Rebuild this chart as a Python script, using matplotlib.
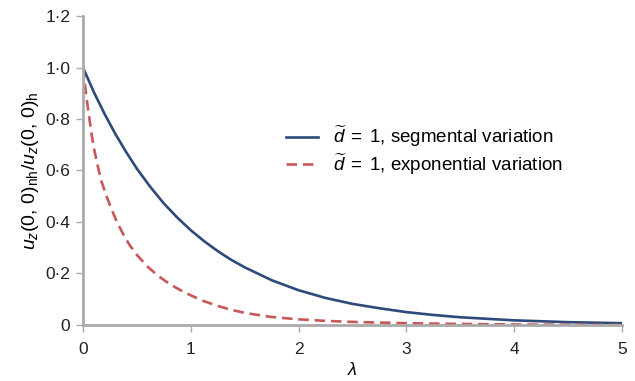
import matplotlib
matplotlib.use('Agg')
import matplotlib.pyplot as plt
from matplotlib.ticker import FixedLocator, FixedFormatter

plt.rcParams['font.family'] = ['Liberation Sans', 'DejaVu Sans']
plt.rcParams['mathtext.fontset'] = 'custom'
plt.rcParams['mathtext.rm'] = 'Liberation Sans'
plt.rcParams['mathtext.it'] = 'Liberation Sans:italic'

# values
lam_seg = [0, 0.1, 0.2, 0.3, 0.4, 0.5, 0.625, 0.75, 0.875, 1.0, 1.125, 1.25, 1.375, 1.5, 1.75,
           2.0, 2.25, 2.5, 2.75, 3.0, 3.25, 3.5, 3.75, 4.0, 4.5, 5.0]
u_seg = [1.0, 0.905, 0.82, 0.742, 0.672, 0.607, 0.536, 0.472, 0.417, 0.368, 0.325, 0.287,
         0.253, 0.224, 0.174, 0.135, 0.105, 0.082, 0.065, 0.05, 0.039, 0.03, 0.024, 0.018,
         0.011, 0.007]

lam_exp = [0, 0.02, 0.04, 0.06, 0.08, 0.1, 0.135, 0.17, 0.21, 0.25, 0.31, 0.37, 0.43, 0.5,
           0.6, 0.7, 0.8, 0.9, 1.0, 1.125, 1.25, 1.375, 1.5, 1.75, 2.0, 2.25, 2.5, 3.0, 3.5,
           4.0, 4.5, 5.0]
u_exp = [1.0, 0.925, 0.86, 0.80, 0.74, 0.69, 0.62, 0.56, 0.51, 0.465, 0.405, 0.355, 0.312,
         0.272, 0.226, 0.19, 0.16, 0.136, 0.115, 0.092, 0.074, 0.059, 0.047, 0.031, 0.022,
         0.016, 0.012, 0.007, 0.004, 0.002, 0.001, 0.0]

yticks = [0, 0.2, 0.4, 0.6, 0.8, 1.0, 1.2]
ylabels = ['0', '0·2', '0·4', '0·6', '0·8', '1·0', '1·2']
xticks = [0, 1, 2, 3, 4, 5]

fig = plt.figure(figsize=(6.35, 3.81), dpi=100)
ax = fig.add_axes([0.1307, 0.147, 0.8488, 0.811])

ax.plot(lam_seg, u_seg, color='#2e4a7a', lw=1.9, solid_joinstyle='round',
        label=r'$\widetilde{d}\;=\;1$, segmental variation')
ax.plot(lam_exp, u_exp, color='#c9575a', lw=1.9, ls=(0, (4, 2.2)),
        label=r'$\widetilde{d}\;=\;1$, exponential variation')

ax.set_xlim(0, 5)
ax.set_ylim(0, 1.2)
ax.yaxis.set_major_locator(FixedLocator(yticks))
ax.yaxis.set_major_formatter(FixedFormatter(ylabels))
ax.set_xticks(xticks)
ax.set_xticklabels([str(x) for x in xticks])

for s in ['top', 'right']:
    ax.spines[s].set_visible(False)
for s in ['left', 'bottom']:
    ax.spines[s].set_color('#aaaaaa')
    ax.spines[s].set_linewidth(2)
ax.tick_params(axis='both', colors='#aaaaaa', length=5, width=1,
               labelsize=12.5, labelcolor='#222222', direction='out')
ax.tick_params(axis='x', pad=7)
ax.tick_params(axis='y', pad=4)

ax.set_xlabel(r'$\lambda$', fontsize=13, labelpad=4)
ax.set_ylabel(r'$u_z(0,\,0)_{\mathrm{nh}}/u_z(0,\,0)_{\mathrm{h}}$', fontsize=14, labelpad=3)

ax.legend(loc='upper left', bbox_to_anchor=(0.345, 0.705), frameon=False,
          fontsize=13.5, handlelength=1.7, handletextpad=0.8, labelspacing=0.12)

fig.savefig('out.png', dpi=100)
